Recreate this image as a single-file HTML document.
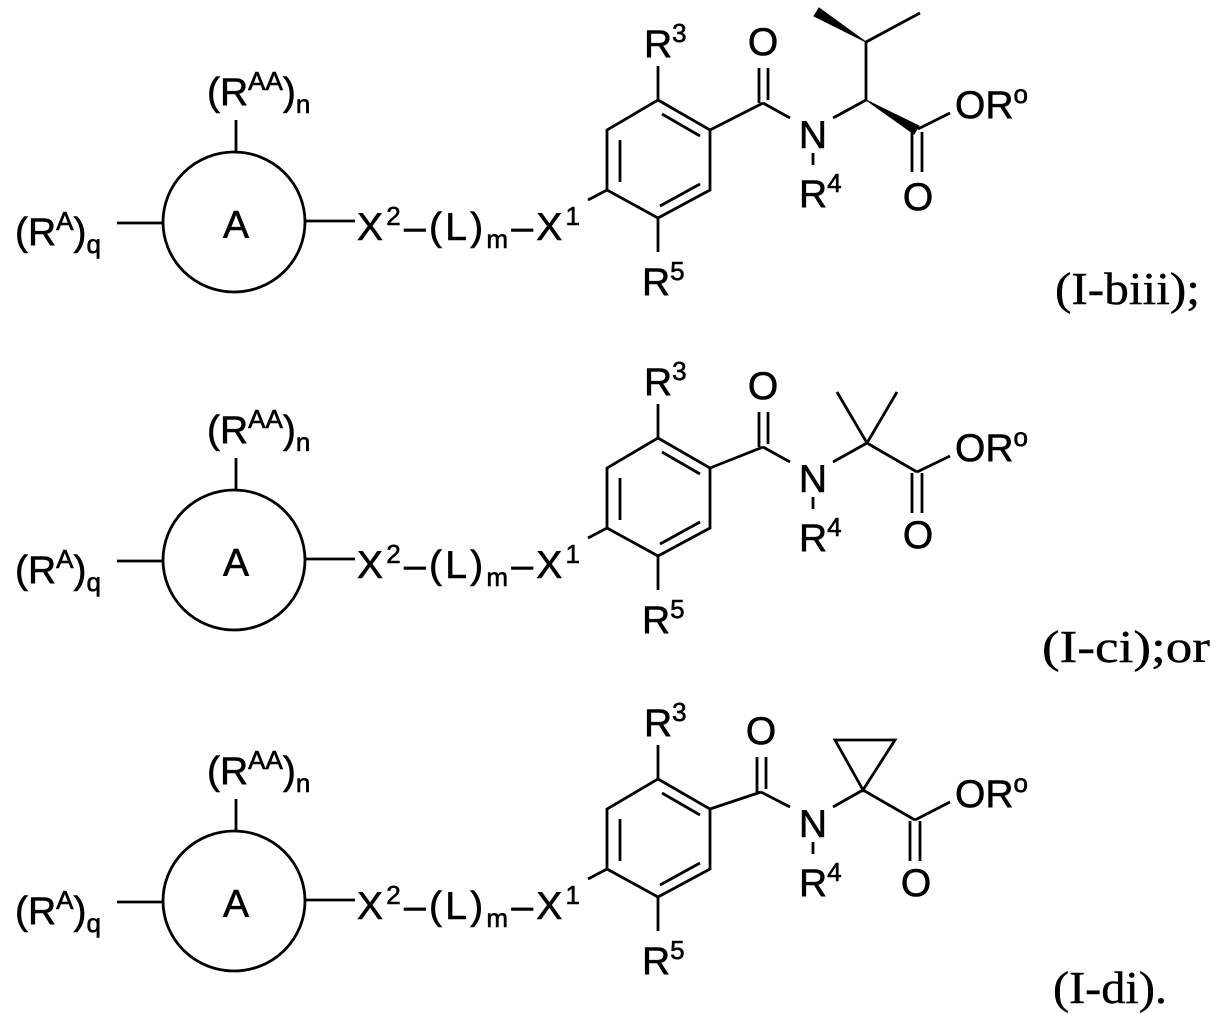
<!DOCTYPE html>
<html><head><meta charset="utf-8"><style>
html,body{margin:0;padding:0;background:#fff}
svg{display:block}
text{font-family:"Liberation Sans",Arial,sans-serif;font-size:39px;fill:#000;stroke:#000;stroke-width:0.6}
.s{font-size:26px}
.lab{font-family:"Liberation Serif","Times New Roman",serif;font-size:46px;stroke-width:0.4}
line,polygon.r,circle,ellipse{stroke:#000;stroke-width:2.8;fill:none}
</style></head><body>
<svg width="1223" height="1027" viewBox="0 0 1223 1027" xmlns="http://www.w3.org/2000/svg">

<!-- ===== Structure 1 ===== -->
<g>
<ellipse cx="234" cy="222" rx="71" ry="70"/>
<line x1="236" y1="120" x2="236" y2="152"/>
<line x1="117" y1="223" x2="163" y2="223"/>
<line x1="305" y1="221" x2="355" y2="221"/>
<line x1="588" y1="200" x2="607" y2="190"/>
<polygon class="r" points="658,100 710,130 710,190 658,218 607,190 607,130"/>
<line x1="662" y1="114" x2="700" y2="136"/>
<line x1="620" y1="140" x2="620" y2="182"/>
<line x1="660" y1="206" x2="700" y2="184"/>
<line x1="658" y1="100" x2="658" y2="66"/>
<line x1="658" y1="218" x2="658" y2="252"/>
<text x="207" y="105">(R<tspan class="s" dy="-15">AA</tspan><tspan dy="15">)</tspan><tspan class="s" dy="8">n</tspan></text>
<text x="15" y="245">(R<tspan class="s" dy="-15">A</tspan><tspan dy="15">)</tspan><tspan class="s" dy="8">q</tspan></text>
<text x="236" y="238" text-anchor="middle">A</text>
<text x="357" y="240" textLength="223" lengthAdjust="spacing">X<tspan class="s" dy="-15">2</tspan><tspan dy="15">–(L)</tspan><tspan class="s" dy="8">m</tspan><tspan dy="-8">–X</tspan><tspan class="s" dy="-15">1</tspan></text>
<text x="644" y="57">R<tspan class="s" dy="-15">3</tspan></text>
<text x="642" y="295">R<tspan class="s" dy="-15">5</tspan></text>
</g>
<g>
<line x1="710" y1="130" x2="763" y2="103"/>
<line x1="759" y1="68" x2="759" y2="103"/>
<line x1="768" y1="68" x2="768" y2="100"/>
<text x="763" y="55" text-anchor="middle">O</text>
<line x1="763" y1="103" x2="790" y2="118"/>
<text x="813" y="148" text-anchor="middle">N</text>
<line x1="833" y1="118" x2="866" y2="100"/>
<line x1="813" y1="153" x2="813" y2="165"/>
<text x="799" y="207">R<tspan class="s" dy="-15">4</tspan></text>
<line x1="866" y1="100" x2="866" y2="42"/>
<polygon points="866,42 819,8 814,16" fill="#000" stroke="#000" stroke-width="1"/>
<line x1="866" y1="42" x2="920" y2="13"/>
<polygon points="866,100 914,134 919,126" fill="#000" stroke="#000" stroke-width="1"/>
<line x1="912" y1="132" x2="912" y2="172"/>
<line x1="922" y1="132" x2="922" y2="172"/>
<text x="918" y="210" text-anchor="middle">O</text>
<line x1="918" y1="129" x2="950" y2="113"/>
<text x="955" y="118">OR<tspan class="s" dy="-15">o</tspan></text>
</g>
<text class="lab" x="1055" y="304" textLength="145" lengthAdjust="spacingAndGlyphs">(I-biii);</text>

<!-- ===== Structure 2 ===== -->
<g transform="translate(0,338)">
<ellipse cx="234" cy="222" rx="71" ry="70"/>
<line x1="236" y1="120" x2="236" y2="152"/>
<line x1="117" y1="223" x2="163" y2="223"/>
<line x1="305" y1="221" x2="355" y2="221"/>
<line x1="588" y1="200" x2="607" y2="190"/>
<polygon class="r" points="658,100 710,130 710,190 658,218 607,190 607,130"/>
<line x1="662" y1="114" x2="700" y2="136"/>
<line x1="620" y1="140" x2="620" y2="182"/>
<line x1="660" y1="206" x2="700" y2="184"/>
<line x1="658" y1="100" x2="658" y2="66"/>
<line x1="658" y1="218" x2="658" y2="252"/>
<text x="207" y="105">(R<tspan class="s" dy="-15">AA</tspan><tspan dy="15">)</tspan><tspan class="s" dy="8">n</tspan></text>
<text x="15" y="245">(R<tspan class="s" dy="-15">A</tspan><tspan dy="15">)</tspan><tspan class="s" dy="8">q</tspan></text>
<text x="236" y="238" text-anchor="middle">A</text>
<text x="357" y="240" textLength="223" lengthAdjust="spacing">X<tspan class="s" dy="-15">2</tspan><tspan dy="15">–(L)</tspan><tspan class="s" dy="8">m</tspan><tspan dy="-8">–X</tspan><tspan class="s" dy="-15">1</tspan></text>
<text x="644" y="57">R<tspan class="s" dy="-15">3</tspan></text>
<text x="642" y="295">R<tspan class="s" dy="-15">5</tspan></text>
</g>
<line x1="710" y1="468" x2="763" y2="447"/>
<g transform="translate(0,344)">
<line x1="759" y1="68" x2="759" y2="103"/>
<line x1="768" y1="68" x2="768" y2="100"/>
<text x="763" y="55" text-anchor="middle">O</text>
<line x1="763" y1="103" x2="790" y2="118"/>
<text x="813" y="148" text-anchor="middle">N</text>
<line x1="833" y1="118" x2="867" y2="99"/>
<line x1="813" y1="153" x2="813" y2="165"/>
<text x="799" y="207">R<tspan class="s" dy="-15">4</tspan></text>
<line x1="867" y1="99" x2="837" y2="48"/>
<line x1="867" y1="99" x2="897" y2="48"/>
<line x1="867" y1="99" x2="917" y2="128"/>
<line x1="912" y1="129" x2="912" y2="169"/>
<line x1="922" y1="129" x2="922" y2="169"/>
<text x="918" y="204" text-anchor="middle">O</text>
<line x1="917" y1="128" x2="950" y2="112"/>
<text x="955" y="117">OR<tspan class="s" dy="-15">o</tspan></text>
</g>
<text class="lab" x="1042" y="662" textLength="168" lengthAdjust="spacingAndGlyphs">(I-ci);or</text>

<!-- ===== Structure 3 ===== -->
<g transform="translate(0,679)">
<ellipse cx="234" cy="222" rx="71" ry="70"/>
<line x1="236" y1="120" x2="236" y2="152"/>
<line x1="117" y1="223" x2="163" y2="223"/>
<line x1="305" y1="221" x2="355" y2="221"/>
<line x1="588" y1="200" x2="607" y2="190"/>
<polygon class="r" points="658,100 710,130 710,190 658,218 607,190 607,130"/>
<line x1="662" y1="114" x2="700" y2="136"/>
<line x1="620" y1="140" x2="620" y2="182"/>
<line x1="660" y1="206" x2="700" y2="184"/>
<line x1="658" y1="100" x2="658" y2="66"/>
<line x1="658" y1="218" x2="658" y2="252"/>
<text x="207" y="105">(R<tspan class="s" dy="-15">AA</tspan><tspan dy="15">)</tspan><tspan class="s" dy="8">n</tspan></text>
<text x="15" y="245">(R<tspan class="s" dy="-15">A</tspan><tspan dy="15">)</tspan><tspan class="s" dy="8">q</tspan></text>
<text x="236" y="238" text-anchor="middle">A</text>
<text x="357" y="240" textLength="223" lengthAdjust="spacing">X<tspan class="s" dy="-15">2</tspan><tspan dy="15">–(L)</tspan><tspan class="s" dy="8">m</tspan><tspan dy="-8">–X</tspan><tspan class="s" dy="-15">1</tspan></text>
<text x="644" y="57">R<tspan class="s" dy="-15">3</tspan></text>
<text x="642" y="295">R<tspan class="s" dy="-15">5</tspan></text>
</g>
<line x1="710" y1="809" x2="761" y2="792"/>
<g transform="translate(0,689)">
<line x1="757" y1="68" x2="757" y2="103"/>
<line x1="766" y1="68" x2="766" y2="100"/>
<text x="761" y="55" text-anchor="middle">O</text>
<line x1="761" y1="103" x2="790" y2="118"/>
<text x="813" y="148" text-anchor="middle">N</text>
<line x1="833" y1="118" x2="863" y2="101"/>
<line x1="813" y1="153" x2="813" y2="165"/>
<text x="799" y="207">R<tspan class="s" dy="-15">4</tspan></text>
<polygon class="r" points="863,101 835,51 895,51"/>
<line x1="863" y1="101" x2="915" y2="131"/>
<line x1="910" y1="132" x2="910" y2="172"/>
<line x1="920" y1="132" x2="920" y2="172"/>
<text x="916" y="207" text-anchor="middle">O</text>
<line x1="915" y1="131" x2="950" y2="113"/>
<text x="955" y="118">OR<tspan class="s" dy="-15">o</tspan></text>
</g>
<text class="lab" x="1053" y="1003" textLength="114" lengthAdjust="spacingAndGlyphs">(I-di).</text>
</svg>
</body></html>
